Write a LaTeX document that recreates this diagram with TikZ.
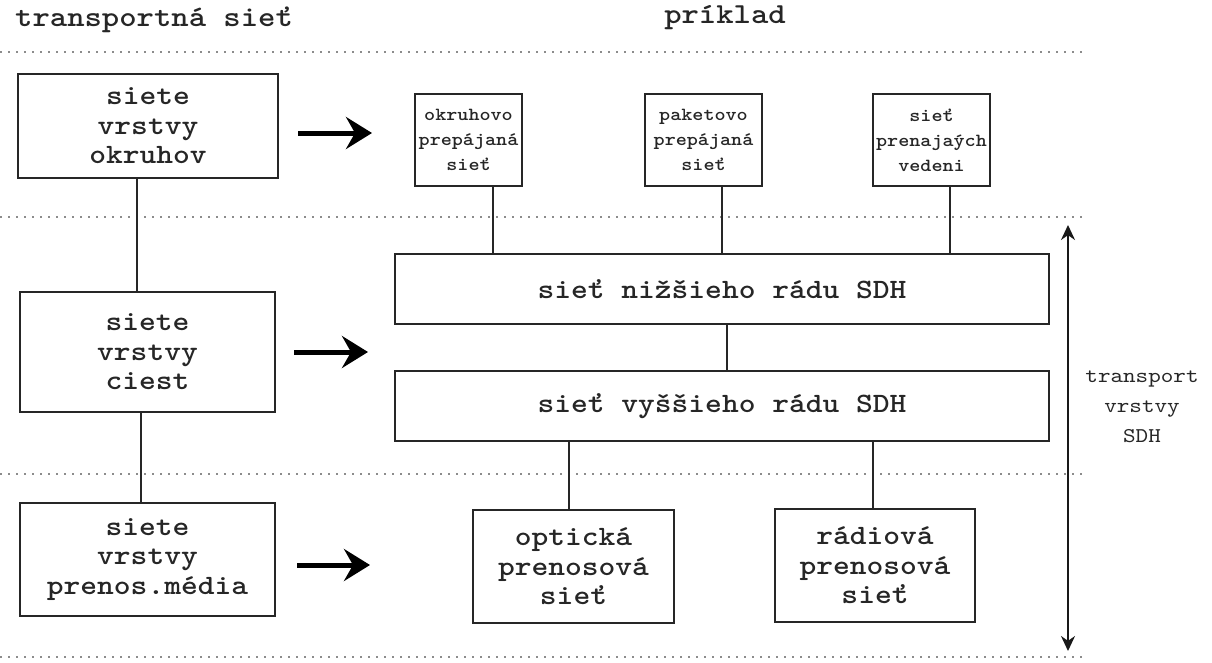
\documentclass[tikz,border=0pt]{standalone}
\usepackage{fontspec}
\newfontfamily\monofnt{lmmono10-regular}[Extension=.otf, BoldFont=lmmonolt10-bold, FakeStretch=1.14]
\usetikzlibrary{arrows.meta}

\tikzset{
  bigbox/.style={draw=black!85, line width=2.3pt, fill=white, align=center, inner sep=0pt,
    text=black!85, font=\monofnt\bfseries\fontsize{28}{29.5}\selectfont},
  smallbox/.style={draw=black!85, line width=2.3pt, fill=white, align=center, inner sep=0pt,
    text=black!85, font=\monofnt\bfseries\fontsize{18.5}{25}\selectfont},
  wire/.style={draw=black!85, line width=2pt},
  sep/.style={draw=black!45, line width=2pt, dash pattern=on 2pt off 6pt},
  bigarrow/.style={draw=black, line width=5pt, -{Stealth[length=26pt, width=32pt, inset=9pt]}},
  span/.style={draw=black!90, line width=2pt, {Stealth[length=15pt, width=14pt]}-{Stealth[length=15pt, width=14pt]}},
  title/.style={text=black!85, inner sep=0pt, font=\monofnt\bfseries\fontsize{29}{30}\selectfont},
  sidelabel/.style={text=black!85, align=center, inner sep=0pt, font=\monofnt\fontsize{21}{30}\selectfont}
}

\begin{document}
\begin{tikzpicture}[x=1pt, y=-1pt]
  \useasboundingbox (0,0) rectangle (1212,662);

  % headings
  \node[title, anchor=west] (htrans) at (15,20) {transportná sieť};
  \node[title] (hex) at (725,18) {príklad};

  % layer separators
  \foreach \yy in {52,217,474,657}
    \draw[sep] (0,\yy) -- (1083,\yy);

  % layer networks (left column)
  \node[bigbox, minimum width=260pt, minimum height=104pt] (lc) at (148,126) {siete\\vrstvy\\okruhov};
  \node[bigbox, minimum width=255pt, minimum height=120pt] (lp) at (147.5,352) {siete\\vrstvy\\ciest};
  \node[bigbox, minimum width=255pt, minimum height=113pt] (lm) at (147.5,559.5) {siete\\vrstvy\\prenos.média};

  \draw[wire] ([xshift=-11pt]lc.south) -- ([xshift=-11pt]lc.south |- lp.north);
  \draw[wire] ([xshift=-7pt]lp.south) -- ([xshift=-7pt]lp.south |- lm.north);

  % arrows towards the examples
  \coordinate (a1s) at (298,133); \coordinate (a1e) at (372,133);
  \coordinate (a2s) at (294,352); \coordinate (a2e) at (368,352);
  \coordinate (a3s) at (297,565); \coordinate (a3e) at (370,565);
  \draw[bigarrow] (a1s) -- (a1e);
  \draw[bigarrow] (a2s) -- (a2e);
  \draw[bigarrow] (a3s) -- (a3e);

  % circuit layer examples
  \node[smallbox, minimum width=107pt, minimum height=92pt] (s1) at (468.5,140) {okruhovo\\prepájaná\\sieť};
  \node[smallbox, minimum width=117pt, minimum height=92pt] (s2) at (703.5,140) {paketovo\\prepájaná\\sieť};
  \node[smallbox, minimum width=117pt, minimum height=92pt] (s3) at (931.5,140) {sieť\\prenajaých\\vedeni};

  % SDH path layers
  \node[bigbox, minimum width=654pt, minimum height=70pt] (low) at (722,289) {sieť nižšieho rádu SDH};
  \node[bigbox, minimum width=654pt, minimum height=70pt] (high) at (722,406) {sieť vyššieho rádu SDH};

  \draw[wire] ([xshift=24.5pt]s1.south) -- ([xshift=24.5pt]s1.south |- low.north);
  \draw[wire] ([xshift=18.5pt]s2.south) -- ([xshift=18.5pt]s2.south |- low.north);
  \draw[wire] ([xshift=18.5pt]s3.south) -- ([xshift=18.5pt]s3.south |- low.north);
  \draw[wire] ([xshift=5pt]low.south) -- ([xshift=5pt]low.south |- high.north);

  % transmission media examples
  \node[bigbox, minimum width=201pt, minimum height=113pt] (opt) at (573.5,566.5) {optická\\prenosová\\sieť};
  \node[bigbox, minimum width=200pt, minimum height=113pt] (rad) at (875,565.5) {rádiová\\prenosová\\sieť};

  \draw[wire] ([xshift=-4.5pt]opt.north |- high.south) -- ([xshift=-4.5pt]opt.north);
  \draw[wire] ([xshift=-2pt]rad.north |- high.south) -- ([xshift=-2pt]rad.north);

  % extent of the SDH transport layers
  \coordinate (spt) at (1068,225);
  \coordinate (spb) at (1068,651);
  \draw[span] (spt) -- (spb);
  \node[sidelabel] (sdh) at (1142,407) {transport\\vrstvy\\SDH};
\end{tikzpicture}
\end{document}
